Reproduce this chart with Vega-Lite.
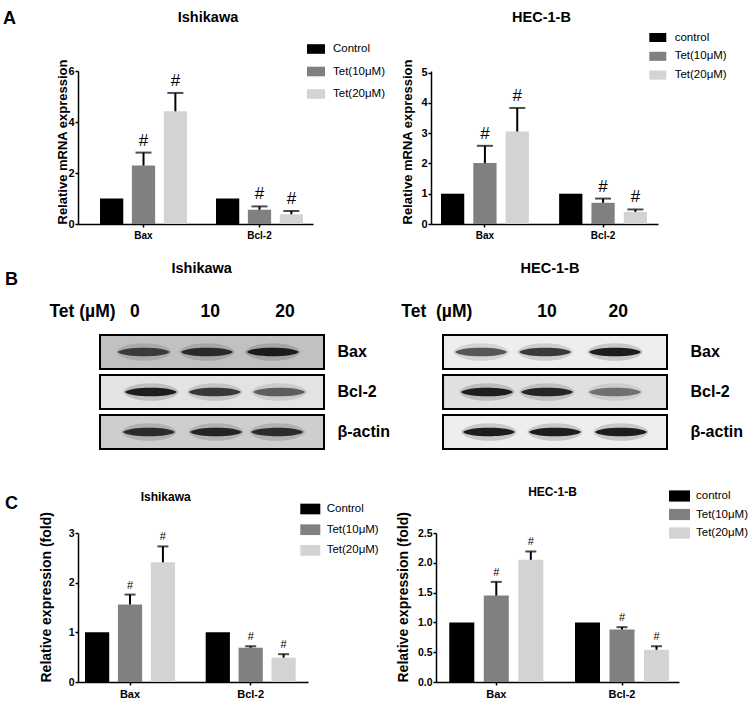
{
"$schema": "https://vega.github.io/schema/vega-lite/v6.json",
"background": "white",
"padding": {"left": 3, "top": 9, "right": 0, "bottom": 0},
"config": {
  "font": "Liberation Sans",
  "view": {"stroke": null},
  "axis": {"grid": false, "domainColor": "black", "tickColor": "black", "labelColor": "black", "titleColor": "black", "labelOverlap": false},
  "legend": {"labelColor": "black"},
  "title": {"color": "black"}
},
"datasets": {
  "aIsh": [
    {"gene": "Bax", "group": "Control", "value": 1.0, "upper": null, "sig": ""},
    {"gene": "Bax", "group": "Tet(10μM)", "value": 2.29, "upper": 2.80, "sig": "#"},
    {"gene": "Bax", "group": "Tet(20μM)", "value": 4.42, "upper": 5.14, "sig": "#"},
    {"gene": "Bcl-2", "group": "Control", "value": 1.0, "upper": null, "sig": ""},
    {"gene": "Bcl-2", "group": "Tet(10μM)", "value": 0.56, "upper": 0.69, "sig": "#"},
    {"gene": "Bcl-2", "group": "Tet(20μM)", "value": 0.38, "upper": 0.51, "sig": "#"}
  ],
  "aHec": [
    {"gene": "Bax", "group": "control", "value": 1.0, "upper": null, "sig": ""},
    {"gene": "Bax", "group": "Tet(10μM)", "value": 2.01, "upper": 2.58, "sig": "#"},
    {"gene": "Bax", "group": "Tet(20μM)", "value": 3.05, "upper": 3.83, "sig": "#"},
    {"gene": "Bcl-2", "group": "control", "value": 1.0, "upper": null, "sig": ""},
    {"gene": "Bcl-2", "group": "Tet(10μM)", "value": 0.70, "upper": 0.84, "sig": "#"},
    {"gene": "Bcl-2", "group": "Tet(20μM)", "value": 0.40, "upper": 0.48, "sig": "#"}
  ],
  "cIsh": [
    {"gene": "Bax", "group": "Control", "value": 1.0, "upper": null, "sig": ""},
    {"gene": "Bax", "group": "Tet(10μM)", "value": 1.56, "upper": 1.76, "sig": "#"},
    {"gene": "Bax", "group": "Tet(20μM)", "value": 2.41, "upper": 2.73, "sig": "#"},
    {"gene": "Bcl-2", "group": "Control", "value": 1.0, "upper": null, "sig": ""},
    {"gene": "Bcl-2", "group": "Tet(10μM)", "value": 0.69, "upper": 0.72, "sig": "#"},
    {"gene": "Bcl-2", "group": "Tet(20μM)", "value": 0.49, "upper": 0.56, "sig": "#"}
  ],
  "cHec": [
    {"gene": "Bax", "group": "control", "value": 1.0, "upper": null, "sig": ""},
    {"gene": "Bax", "group": "Tet(10μM)", "value": 1.45, "upper": 1.68, "sig": "#"},
    {"gene": "Bax", "group": "Tet(20μM)", "value": 2.05, "upper": 2.19, "sig": "#"},
    {"gene": "Bcl-2", "group": "control", "value": 1.0, "upper": null, "sig": ""},
    {"gene": "Bcl-2", "group": "Tet(10μM)", "value": 0.88, "upper": 0.92, "sig": "#"},
    {"gene": "Bcl-2", "group": "Tet(20μM)", "value": 0.54, "upper": 0.60, "sig": "#"}
  ],
  "boxIsh": [
    {"protein": "Bax", "background": 0.45},
    {"protein": "Bcl-2", "background": 0.2},
    {"protein": "β-actin", "background": 0.35}
  ],
  "boxHec": [
    {"protein": "Bax", "background": 0.12},
    {"protein": "Bcl-2", "background": 0.22},
    {"protein": "β-actin", "background": 0.12}
  ],
  "bandIsh": [
    {"protein": "Bax", "lane": 1, "pos": 0.95, "intensity": 0.75},
    {"protein": "Bax", "lane": 2, "pos": 1.93, "intensity": 0.85},
    {"protein": "Bax", "lane": 3, "pos": 2.95, "intensity": 0.95},
    {"protein": "Bcl-2", "lane": 1, "pos": 1.06, "intensity": 0.95},
    {"protein": "Bcl-2", "lane": 2, "pos": 2.05, "intensity": 0.8},
    {"protein": "Bcl-2", "lane": 3, "pos": 3.05, "intensity": 0.6},
    {"protein": "β-actin", "lane": 1, "pos": 1.03, "intensity": 0.85},
    {"protein": "β-actin", "lane": 2, "pos": 2.07, "intensity": 0.9},
    {"protein": "β-actin", "lane": 3, "pos": 3.02, "intensity": 0.85}
  ],
  "bandHec": [
    {"protein": "Bax", "lane": 1, "pos": 0.94, "intensity": 0.65},
    {"protein": "Bax", "lane": 2, "pos": 1.91, "intensity": 0.8},
    {"protein": "Bax", "lane": 3, "pos": 2.97, "intensity": 0.95},
    {"protein": "Bcl-2", "lane": 1, "pos": 1.03, "intensity": 0.95},
    {"protein": "Bcl-2", "lane": 2, "pos": 1.94, "intensity": 0.9},
    {"protein": "Bcl-2", "lane": 3, "pos": 2.97, "intensity": 0.5},
    {"protein": "β-actin", "lane": 1, "pos": 1.06, "intensity": 0.95},
    {"protein": "β-actin", "lane": 2, "pos": 2.06, "intensity": 0.95},
    {"protein": "β-actin", "lane": 3, "pos": 3.06, "intensity": 0.95}
  ],
  "hdrIsh": [
    {"pos": 0.0, "label": "Tet (µM)"},
    {"pos": 0.81, "label": "0"},
    {"pos": 1.98, "label": "10"},
    {"pos": 3.14, "label": "20"}
  ],
  "hdrHec": [
    {"pos": 0.27, "label": "Tet\u00a0 (µM)"},
    {"pos": 1.94, "label": "10"},
    {"pos": 3.02, "label": "20"}
  ]
},
"bounds": "full",
"spacing": 21,
"resolve": {"scale": {"color": "independent", "xOffset": "independent", "opacity": "independent", "fill": "independent", "fillOpacity": "independent"}, "legend": {"color": "independent", "opacity": "independent", "fill": "independent", "fillOpacity": "independent"}},
"vconcat": [
  {
    "title": {"text": "A", "anchor": "start", "frame": "group", "dx": -75, "dy": 32, "offset": 0, "fontSize": 18, "fontWeight": "bold", "baseline": "alphabetic"},
    "bounds": "flush",
    "spacing": 118,
    "resolve": {"scale": {"color": "independent", "xOffset": "independent"}, "legend": {"color": "independent"}},
    "hconcat": [
      {
        "width": 235, "height": 153,
        "data": {"name": "aIsh"},
        "title": {"text": "Ishikawa", "fontSize": 14.5, "fontWeight": "bold", "anchor": "middle", "frame": "group", "dx": 12.5, "offset": 6.5, "baseline": "alphabetic"},
        "encoding": {
          "x": {"field": "gene", "type": "nominal", "scale": {"domain": ["Bax", "Bcl-2"], "paddingInner": 0.25, "paddingOuter": 0.138, "align": 0.6875}, "axis": {"title": null, "labelAngle": 0, "labelFontSize": 10, "labelFontWeight": "bold", "domainWidth": 1.5, "tickWidth": 1.5, "tickSize": 3, "labelPadding": 3}},
          "xOffset": {"field": "group", "type": "nominal", "scale": {"domain": ["Control", "Tet(10μM)", "Tet(20μM)"], "paddingInner": 0.27, "paddingOuter": 0}}
        },
        "layer": [
          {"mark": {"type": "bar"},
           "encoding": {
             "y": {"field": "value", "type": "quantitative", "scale": {"domain": [0, 6], "nice": false}, "axis": {"values": [0, 2, 4, 6], "format": "d", "tickCount": 12, "labelOverlap": false, "title": "Relative mRNA expression", "titleFontSize": 13, "titleFontWeight": "bold", "titlePadding": -2, "titleAnchor": "start", "labelFontSize": 11, "labelFontWeight": "bold", "tickSize": 3, "tickWidth": 1.5, "domainWidth": 1.5, "labelPadding": 1}},
             "color": {"field": "group", "type": "nominal", "scale": {"domain": ["Control", "Tet(10μM)", "Tet(20μM)"], "range": ["#000000", "#808080", "#d3d3d3"]},
               "legend": {"title": null, "orient": "none", "legendX": 232, "legendY": -28, "symbolType": "M-1.5,-0.8H1.5V0.8H-1.5Z", "symbolSize": 144, "symbolStrokeWidth": 0, "labelFontSize": 11.5, "labelOffset": 11, "rowPadding": 10.5, "padding": 0}}
           }},
          {"transform": [{"filter": "isValid(datum.upper)"}], "mark": {"type": "rule", "color": "black", "strokeWidth": 2},
           "encoding": {"y": {"field": "value", "type": "quantitative", "scale": {"domain": [0, 6], "nice": false}, "title": "Relative mRNA expression"}, "y2": {"field": "upper"}}},
          {"transform": [{"filter": "isValid(datum.upper)"}], "mark": {"type": "tick", "color": "black", "thickness": 2, "size": 16, "orient": "horizontal"},
           "encoding": {"y": {"field": "upper", "type": "quantitative", "scale": {"domain": [0, 6], "nice": false}, "title": "Relative mRNA expression"}}},
          {"transform": [{"filter": "isValid(datum.upper)"}], "mark": {"type": "text", "fontSize": 17, "dy": -7, "baseline": "alphabetic", "color": "black"},
           "encoding": {"y": {"field": "upper", "type": "quantitative", "scale": {"domain": [0, 6], "nice": false}, "title": "Relative mRNA expression"}, "text": {"field": "sig"}}}
        ]
      },
      {
        "width": 227, "height": 153,
        "data": {"name": "aHec"},
        "title": {"text": "HEC-1-B", "fontSize": 14.5, "fontWeight": "bold", "anchor": "middle", "frame": "group", "dx": -3, "offset": -4.5, "baseline": "alphabetic"},
        "encoding": {
          "x": {"field": "gene", "type": "nominal", "scale": {"domain": ["Bax", "Bcl-2"], "paddingInner": 0.256, "paddingOuter": 0.0887, "align": 0.476}, "axis": {"title": null, "labelAngle": 0, "labelFontSize": 10, "labelFontWeight": "bold", "domainWidth": 1.5, "tickWidth": 1.5, "tickSize": 3, "labelPadding": 3}},
          "xOffset": {"field": "group", "type": "nominal", "scale": {"domain": ["control", "Tet(10μM)", "Tet(20μM)"], "paddingInner": 0.28, "paddingOuter": 0}}
        },
        "layer": [
          {"mark": {"type": "bar"},
           "encoding": {
             "y": {"field": "value", "type": "quantitative", "scale": {"domain": [0, 5.05], "nice": false}, "axis": {"values": [0, 1, 2, 3, 4, 5], "format": "d", "tickCount": 12, "labelOverlap": false, "title": "Relative mRNA expression", "titleFontSize": 13, "titleFontWeight": "bold", "titlePadding": 6, "titleAnchor": "start", "labelFontSize": 11, "labelFontWeight": "bold", "tickSize": 3, "tickWidth": 1.5, "domainWidth": 1.5, "labelPadding": 1}},
             "color": {"field": "group", "type": "nominal", "scale": {"domain": ["control", "Tet(10μM)", "Tet(20μM)"], "range": ["#000000", "#808080", "#d3d3d3"]},
               "legend": {"title": null, "orient": "none", "legendX": 220.8, "legendY": -39.5, "symbolType": "M-1.5,-0.8H1.5V0.8H-1.5Z", "symbolSize": 128, "symbolStrokeWidth": 0, "labelFontSize": 11.5, "labelOffset": 10.9, "rowPadding": 6.8, "padding": 0}}
           }},
          {"transform": [{"filter": "isValid(datum.upper)"}], "mark": {"type": "rule", "color": "black", "strokeWidth": 2},
           "encoding": {"y": {"field": "value", "type": "quantitative", "scale": {"domain": [0, 5.05], "nice": false}, "title": "Relative mRNA expression"}, "y2": {"field": "upper"}}},
          {"transform": [{"filter": "isValid(datum.upper)"}], "mark": {"type": "tick", "color": "black", "thickness": 2, "size": 16, "orient": "horizontal"},
           "encoding": {"y": {"field": "upper", "type": "quantitative", "scale": {"domain": [0, 5.05], "nice": false}, "title": "Relative mRNA expression"}}},
          {"transform": [{"filter": "isValid(datum.upper)"}], "mark": {"type": "text", "fontSize": 17, "dy": -7, "baseline": "alphabetic", "color": "black"},
           "encoding": {"y": {"field": "upper", "type": "quantitative", "scale": {"domain": [0, 5.05], "nice": false}, "title": "Relative mRNA expression"}, "text": {"field": "sig"}}}
        ]
      }
    ]
  },
  {
    "title": {"text": "B", "anchor": "start", "frame": "group", "dx": -73, "dy": 42, "offset": 0, "fontSize": 18, "fontWeight": "bold", "baseline": "alphabetic"},
    "bounds": "flush",
    "spacing": 76,
    "resolve": {"scale": {"opacity": "independent", "fill": "independent", "fillOpacity": "independent"}},
    "hconcat": [
      {
        "width": 246, "height": 172,
        "title": {"text": "Ishikawa", "fontSize": 14.5, "fontWeight": "bold", "anchor": "middle", "frame": "group", "dx": 0.7, "offset": 4.5, "baseline": "alphabetic"},
        "layer": [
          {"data": {"name": "boxIsh"}, "mark": {"type": "rect", "stroke": "black", "strokeWidth": 2},
           "encoding": {
             "x": {"datum": 0.271, "type": "quantitative", "scale": {"domain": [-0.07, 3.744], "nice": false, "zero": false}, "axis": null},
             "x2": {"datum": 3.744},
             "y": {"field": "protein", "type": "nominal", "scale": {"domain": ["header", "Bax", "Bcl-2", "β-actin"], "paddingInner": 0.15, "paddingOuter": 0.225, "align": 0.167}, "axis": {"orient": "right", "values": ["Bax", "Bcl-2", "β-actin"], "title": null, "domain": false, "ticks": false, "labelFontSize": 16, "labelFontWeight": "bold", "labelPadding": 13}},
             "fill": {"field": "background", "type": "quantitative", "scale": {"domain": [0, 1], "range": ["#ffffff", "#7a7a7a"]}, "legend": null}
           }},
          {"data": {"name": "bandIsh"}, "mark": {"type": "point", "shape": "M-1,0C-0.8,-0.42 0.8,-0.42 1,0C0.8,0.42 -0.8,0.42 -1,0Z", "filled": true, "fill": "#333333", "size": 3136, "strokeWidth": 0},
           "encoding": {
             "x": {"field": "pos", "type": "quantitative"},
             "y": {"field": "protein", "type": "nominal"},
             "fillOpacity": {"field": "intensity", "type": "quantitative", "scale": {"domain": [0, 1], "range": [0, 0.3]}, "legend": null}
           }},
          {"data": {"name": "bandIsh"}, "mark": {"type": "point", "shape": "M-1,0C-0.8,-0.22 0.8,-0.22 1,0C0.8,0.22 -0.8,0.22 -1,0Z", "filled": true, "fill": "#141414", "size": 2704, "strokeWidth": 0},
           "encoding": {
             "x": {"field": "pos", "type": "quantitative"},
             "y": {"field": "protein", "type": "nominal"},
             "opacity": {"field": "intensity", "type": "quantitative", "scale": {"domain": [0, 1], "range": [0, 1]}, "legend": null}
           }},
          {"data": {"name": "hdrIsh"}, "mark": {"type": "text", "fontSize": 17.5, "fontWeight": "bold", "color": "black"},
           "encoding": {
             "x": {"field": "pos", "type": "quantitative"},
             "y": {"datum": "header", "type": "nominal"},
             "text": {"field": "label"}
           }}
        ]
      },
      {
        "width": 267, "height": 172,
        "title": {"text": "HEC-1-B", "fontSize": 14.5, "fontWeight": "bold", "anchor": "middle", "frame": "group", "dx": 16.5, "offset": 4.5, "baseline": "alphabetic"},
        "layer": [
          {"data": {"name": "boxHec"}, "mark": {"type": "rect", "stroke": "black", "strokeWidth": 2},
           "encoding": {
             "x": {"datum": 0.364, "type": "quantitative", "scale": {"domain": [-0.288, 3.758], "nice": false, "zero": false}, "axis": null},
             "x2": {"datum": 3.758},
             "y": {"field": "protein", "type": "nominal", "scale": {"domain": ["header", "Bax", "Bcl-2", "β-actin"], "paddingInner": 0.15, "paddingOuter": 0.225, "align": 0.167}, "axis": {"orient": "right", "values": ["Bax", "Bcl-2", "β-actin"], "title": null, "domain": false, "ticks": false, "labelFontSize": 16, "labelFontWeight": "bold", "labelPadding": 23}},
             "fill": {"field": "background", "type": "quantitative", "scale": {"domain": [0, 1], "range": ["#ffffff", "#7a7a7a"]}, "legend": null}
           }},
          {"data": {"name": "bandHec"}, "mark": {"type": "point", "shape": "M-1,0C-0.8,-0.42 0.8,-0.42 1,0C0.8,0.42 -0.8,0.42 -1,0Z", "filled": true, "fill": "#333333", "size": 3136, "strokeWidth": 0},
           "encoding": {
             "x": {"field": "pos", "type": "quantitative"},
             "y": {"field": "protein", "type": "nominal"},
             "fillOpacity": {"field": "intensity", "type": "quantitative", "scale": {"domain": [0, 1], "range": [0, 0.3]}, "legend": null}
           }},
          {"data": {"name": "bandHec"}, "mark": {"type": "point", "shape": "M-1,0C-0.8,-0.22 0.8,-0.22 1,0C0.8,0.22 -0.8,0.22 -1,0Z", "filled": true, "fill": "#141414", "size": 2704, "strokeWidth": 0},
           "encoding": {
             "x": {"field": "pos", "type": "quantitative"},
             "y": {"field": "protein", "type": "nominal"},
             "opacity": {"field": "intensity", "type": "quantitative", "scale": {"domain": [0, 1], "range": [0, 1]}, "legend": null}
           }},
          {"data": {"name": "hdrHec"}, "mark": {"type": "text", "fontSize": 17.5, "fontWeight": "bold", "color": "black"},
           "encoding": {
             "x": {"field": "pos", "type": "quantitative"},
             "y": {"datum": "header", "type": "nominal"},
             "text": {"field": "label"}
           }}
        ]
      }
    ]
  },
  {
    "title": {"text": "C", "anchor": "start", "frame": "group", "dx": -73, "dy": 41.7, "offset": 0, "fontSize": 18, "fontWeight": "bold", "baseline": "alphabetic"},
    "bounds": "flush",
    "spacing": 128,
    "resolve": {"scale": {"color": "independent", "xOffset": "independent"}, "legend": {"color": "independent"}},
    "hconcat": [
      {
        "width": 230, "height": 149,
        "data": {"name": "cIsh"},
        "title": {"text": "Ishikawa", "fontSize": 12, "fontWeight": "bold", "anchor": "middle", "frame": "group", "dx": -27.3, "offset": -11, "baseline": "alphabetic"},
        "encoding": {
          "x": {"field": "gene", "type": "nominal", "scale": {"domain": ["Bax", "Bcl-2"], "paddingInner": 0.254, "paddingOuter": 0.08, "align": 0.363}, "axis": {"title": null, "labelAngle": 0, "labelFontSize": 11, "labelFontWeight": "bold", "domainWidth": 1.5, "tickWidth": 1.5, "tickSize": 3, "labelPadding": 3}},
          "xOffset": {"field": "group", "type": "nominal", "scale": {"domain": ["Control", "Tet(10μM)", "Tet(20μM)"], "paddingInner": 0.264, "paddingOuter": 0}}
        },
        "layer": [
          {"mark": {"type": "bar"},
           "encoding": {
             "y": {"field": "value", "type": "quantitative", "scale": {"domain": [0, 3], "nice": false}, "axis": {"values": [0, 1, 2, 3], "format": "d", "tickCount": 12, "labelOverlap": false, "title": "Relative expression (fold)", "titleFontSize": 14, "titleFontWeight": "bold", "titlePadding": 15, "titleAnchor": "start", "labelFontSize": 10.5, "labelFontWeight": "bold", "tickSize": 3, "tickWidth": 1.5, "domainWidth": 1.5, "labelPadding": 1}},
             "color": {"field": "group", "type": "nominal", "scale": {"domain": ["Control", "Tet(10μM)", "Tet(20μM)"], "range": ["#000000", "#808080", "#d3d3d3"]},
               "legend": {"title": null, "orient": "none", "legendX": 225.3, "legendY": -31, "symbolType": "M-1.5,-0.8H1.5V0.8H-1.5Z", "symbolSize": 178, "symbolStrokeWidth": 0, "labelFontSize": 11.5, "labelOffset": 9.4, "rowPadding": 7.7, "padding": 0}}
           }},
          {"transform": [{"filter": "isValid(datum.upper)"}], "mark": {"type": "rule", "color": "black", "strokeWidth": 2},
           "encoding": {"y": {"field": "value", "type": "quantitative", "scale": {"domain": [0, 3], "nice": false}, "title": "Relative expression (fold)"}, "y2": {"field": "upper"}}},
          {"transform": [{"filter": "isValid(datum.upper)"}], "mark": {"type": "tick", "color": "black", "thickness": 2, "size": 11, "orient": "horizontal"},
           "encoding": {"y": {"field": "upper", "type": "quantitative", "scale": {"domain": [0, 3], "nice": false}, "title": "Relative expression (fold)"}}},
          {"transform": [{"filter": "isValid(datum.upper)"}], "mark": {"type": "text", "fontSize": 11, "dy": -6, "baseline": "alphabetic", "color": "black"},
           "encoding": {"y": {"field": "upper", "type": "quantitative", "scale": {"domain": [0, 3], "nice": false}, "title": "Relative expression (fold)"}, "text": {"field": "sig"}}}
        ]
      },
      {
        "width": 243, "height": 149,
        "data": {"name": "cHec"},
        "title": {"text": "HEC-1-B", "fontSize": 12, "fontWeight": "bold", "anchor": "middle", "frame": "group", "dx": -5, "offset": -18.6, "baseline": "alphabetic"},
        "encoding": {
          "x": {"field": "gene", "type": "nominal", "scale": {"domain": ["Bax", "Bcl-2"], "paddingInner": 0.252, "paddingOuter": 0.0925, "align": 0.571}, "axis": {"title": null, "labelAngle": 0, "labelFontSize": 11, "labelFontWeight": "bold", "domainWidth": 1.5, "tickWidth": 1.5, "tickSize": 3, "labelPadding": 3}},
          "xOffset": {"field": "group", "type": "nominal", "scale": {"domain": ["control", "Tet(10μM)", "Tet(20μM)"], "paddingInner": 0.275, "paddingOuter": 0}}
        },
        "layer": [
          {"mark": {"type": "bar"},
           "encoding": {
             "y": {"field": "value", "type": "quantitative", "scale": {"domain": [0, 2.5], "nice": false}, "axis": {"values": [0, 0.5, 1, 1.5, 2, 2.5], "tickCount": 12, "labelOverlap": false, "format": ".1f", "title": "Relative expression (fold)", "titleFontSize": 14, "titleFontWeight": "bold", "titlePadding": 6.5, "titleAnchor": "start", "labelFontSize": 10.5, "labelFontWeight": "bold", "tickSize": 3, "tickWidth": 1.5, "domainWidth": 1.5, "labelPadding": 1}},
             "color": {"field": "group", "type": "nominal", "scale": {"domain": ["control", "Tet(10μM)", "Tet(20μM)"], "range": ["#000000", "#808080", "#d3d3d3"]},
               "legend": {"title": null, "orient": "none", "legendX": 236.5, "legendY": -44, "symbolType": "M-1.5,-0.8H1.5V0.8H-1.5Z", "symbolSize": 196, "symbolStrokeWidth": 0, "labelFontSize": 11.5, "labelOffset": 9.5, "rowPadding": 5.5, "padding": 0}}
           }},
          {"transform": [{"filter": "isValid(datum.upper)"}], "mark": {"type": "rule", "color": "black", "strokeWidth": 2},
           "encoding": {"y": {"field": "value", "type": "quantitative", "scale": {"domain": [0, 2.5], "nice": false}, "title": "Relative expression (fold)"}, "y2": {"field": "upper"}}},
          {"transform": [{"filter": "isValid(datum.upper)"}], "mark": {"type": "tick", "color": "black", "thickness": 2, "size": 11, "orient": "horizontal"},
           "encoding": {"y": {"field": "upper", "type": "quantitative", "scale": {"domain": [0, 2.5], "nice": false}, "title": "Relative expression (fold)"}}},
          {"transform": [{"filter": "isValid(datum.upper)"}], "mark": {"type": "text", "fontSize": 11, "dy": -6, "baseline": "alphabetic", "color": "black"},
           "encoding": {"y": {"field": "upper", "type": "quantitative", "scale": {"domain": [0, 2.5], "nice": false}, "title": "Relative expression (fold)"}, "text": {"field": "sig"}}}
        ]
      }
    ]
  }
]
}
